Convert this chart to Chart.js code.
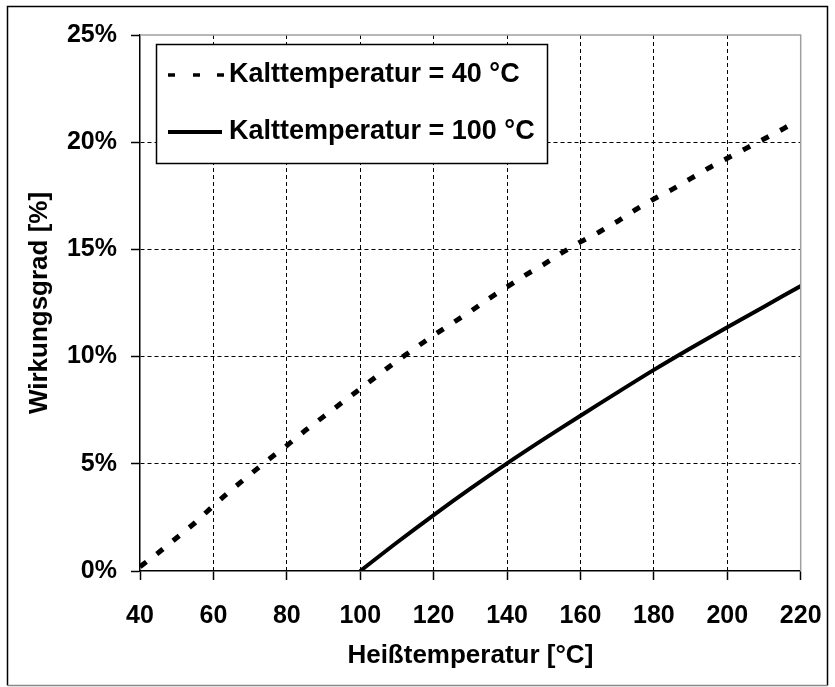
<!DOCTYPE html>
<html>
<head>
<meta charset="utf-8">
<script src="https://cdn.jsdelivr.net/npm/chart.js@4"></script>
<style>
  html, body { margin: 0; padding: 0; background: #fff; }
  #wrap { width: 835px; height: 687px; position: relative; }
</style>
</head>
<body>
<div id="wrap"><canvas id="c" width="835" height="687"></canvas></div>
<script>
// Data
const hotTemp40 = [40, 45, 50, 55, 60, 65, 70, 75, 80, 85, 90, 95, 100, 105, 110, 115, 120, 125, 130, 135, 140, 145, 150, 155, 160, 165, 170, 175, 180, 185, 190, 195, 200, 205, 210, 215, 217];
const eff40 = [0.2, 0.85, 1.55, 2.25, 3.05, 3.8, 4.5, 5.2, 5.85, 6.55, 7.2, 7.85, 8.5, 9.15, 9.8, 10.4, 11.0, 11.55, 12.1, 12.7, 13.25, 13.8, 14.3, 14.85, 15.35, 15.8, 16.3, 16.85, 17.35, 17.8, 18.3, 18.8, 19.25, 19.7, 20.15, 20.6, 20.8];
const hotTemp100 = [100, 110, 120, 130, 140, 150, 160, 170, 180, 190, 200, 210, 220];
const eff100 = [0, 1.33, 2.61, 3.84, 5.02, 6.15, 7.24, 8.32, 9.38, 10.39, 11.37, 12.33, 13.29];
const seriesLabels = ['Kalttemperatur = 40 °C', 'Kalttemperatur = 100 °C'];
const xTitle = 'Heißtemperatur [°C]';
const yTitle = 'Wirkungsgrad [%]';
const xMin = 40, xMax = 220, xStep = 20;
const yMin = 0, yMax = 25, yStep = 5;

const FONT = "'Liberation Sans', Arial, Helvetica, sans-serif";

const frameAndLegend = {
  id: 'frameAndLegend',
  afterDraw(chart) {
    const ctx = chart.ctx;
    const a = chart.chartArea;
    ctx.save();
    // plot area top/right border (gray)
    ctx.strokeStyle = '#a0a0a0';
    ctx.lineWidth = 1.5;
    ctx.setLineDash([]);
    ctx.beginPath();
    ctx.moveTo(a.left, a.top);
    ctx.lineTo(a.right, a.top);
    ctx.lineTo(a.right, a.bottom);
    ctx.stroke();
    // outer frame
    ctx.strokeStyle = '#000';
    ctx.lineWidth = 1.5;
    ctx.beginPath();
    ctx.moveTo(7.5, 685.5);
    ctx.lineTo(7.5, 6.5);
    ctx.lineTo(827.5, 6.5);
    ctx.lineTo(827.5, 685.5);
    ctx.stroke();
    ctx.strokeStyle = '#888';
    ctx.beginPath();
    ctx.moveTo(7.5, 685.5);
    ctx.lineTo(827.5, 685.5);
    ctx.stroke();

    // legend
    const lx = 156, ly = 44, lw = 391, lh = 119;
    ctx.fillStyle = '#fff';
    ctx.fillRect(lx, ly, lw, lh);
    ctx.strokeStyle = '#000';
    ctx.lineWidth = 1.5;
    ctx.strokeRect(lx + 0.5, ly + 0.5, lw, lh);
    const rows = [75, 132];
    chart.data.datasets.forEach((ds, i) => {
      const y = rows[i];
      ctx.strokeStyle = '#000';
      ctx.lineCap = 'butt';
      if (i === 0) {
        ctx.lineWidth = 3.5;
        [168, 193, 217].forEach(x0 => {
          ctx.beginPath();
          ctx.moveTo(x0, y);
          ctx.lineTo(x0 + 7, y);
          ctx.stroke();
        });
      } else {
        ctx.lineWidth = 4;
        ctx.beginPath();
        ctx.moveTo(168, y);
        ctx.lineTo(222, y);
        ctx.stroke();
      }
      ctx.fillStyle = '#000';
      ctx.font = "bold 27px " + FONT;
      ctx.textBaseline = 'middle';
      ctx.textAlign = 'left';
      ctx.fillText(ds.label, 229, y);
    });
    ctx.restore();
  }
};

new Chart(document.getElementById('c'), {
  type: 'line',
  data: {
    datasets: [
      {
        label: seriesLabels[0],
        data: hotTemp40.map((t, i) => ({ x: t, y: eff40[i] })),
        borderColor: '#000',
        borderWidth: 5,
        borderDash: [8, 13],
        borderCapStyle: 'butt',
        pointRadius: 0,
        fill: false,
        tension: 0
      },
      {
        label: seriesLabels[1],
        data: hotTemp100.map((t, i) => ({ x: t, y: eff100[i] })),
        borderColor: '#000',
        borderWidth: 4,
        pointRadius: 0,
        fill: false,
        tension: 0.3
      }
    ]
  },
  options: {
    responsive: false,
    animation: false,
    devicePixelRatio: 1,
    layout: { padding: { left: 0, right: 34.3, top: 35, bottom: 0 } },
    plugins: {
      legend: { display: false },
      tooltip: { enabled: false }
    },
    scales: {
      x: {
        type: 'linear',
        min: xMin, max: xMax,
        afterFit(scale) { scale.height = 116; scale.paddingLeft = 0; scale.paddingRight = 0; },
        ticks: {
          stepSize: xStep,
          color: '#000',
          font: { family: FONT, size: 25, weight: 'bold' },
          padding: 21,
          maxRotation: 0
        },
        grid: {
          color: (c) => (c.tick && (c.tick.value === xMin || c.tick.value === xMax)) ? 'rgba(0,0,0,0)' : '#000',
          lineWidth: 1,
          tickLength: 9,
          tickColor: '#000',
          tickWidth: 1.5
        },
        border: { display: true, color: '#000', width: 1.5, dash: [4, 3] },
        title: {
          display: true,
          text: xTitle,
          color: '#000',
          font: { family: FONT, size: 26, weight: 'bold' },
          padding: { top: 0, bottom: 16 }
        }
      },
      y: {
        type: 'linear',
        min: yMin, max: yMax,
        afterFit(scale) { scale.width = 140; scale.paddingTop = 0; scale.paddingBottom = 0; },
        ticks: {
          stepSize: yStep,
          color: '#000',
          font: { family: FONT, size: 25, weight: 'bold' },
          padding: 14,
          callback: (v) => v + '%'
        },
        grid: {
          color: (c) => (c.tick && (c.tick.value === yMin || c.tick.value === yMax)) ? 'rgba(0,0,0,0)' : '#000',
          lineWidth: 1,
          tickLength: 9,
          tickColor: '#000',
          tickWidth: 1.5
        },
        border: { display: true, color: '#000', width: 1.5, dash: [4, 3] },
        title: {
          display: true,
          text: yTitle,
          color: '#000',
          font: { family: FONT, size: 26, weight: 'bold' },
          padding: { top: 24, bottom: 0 }
        }
      }
    }
  },
  plugins: [frameAndLegend]
});
</script>
</body>
</html>
